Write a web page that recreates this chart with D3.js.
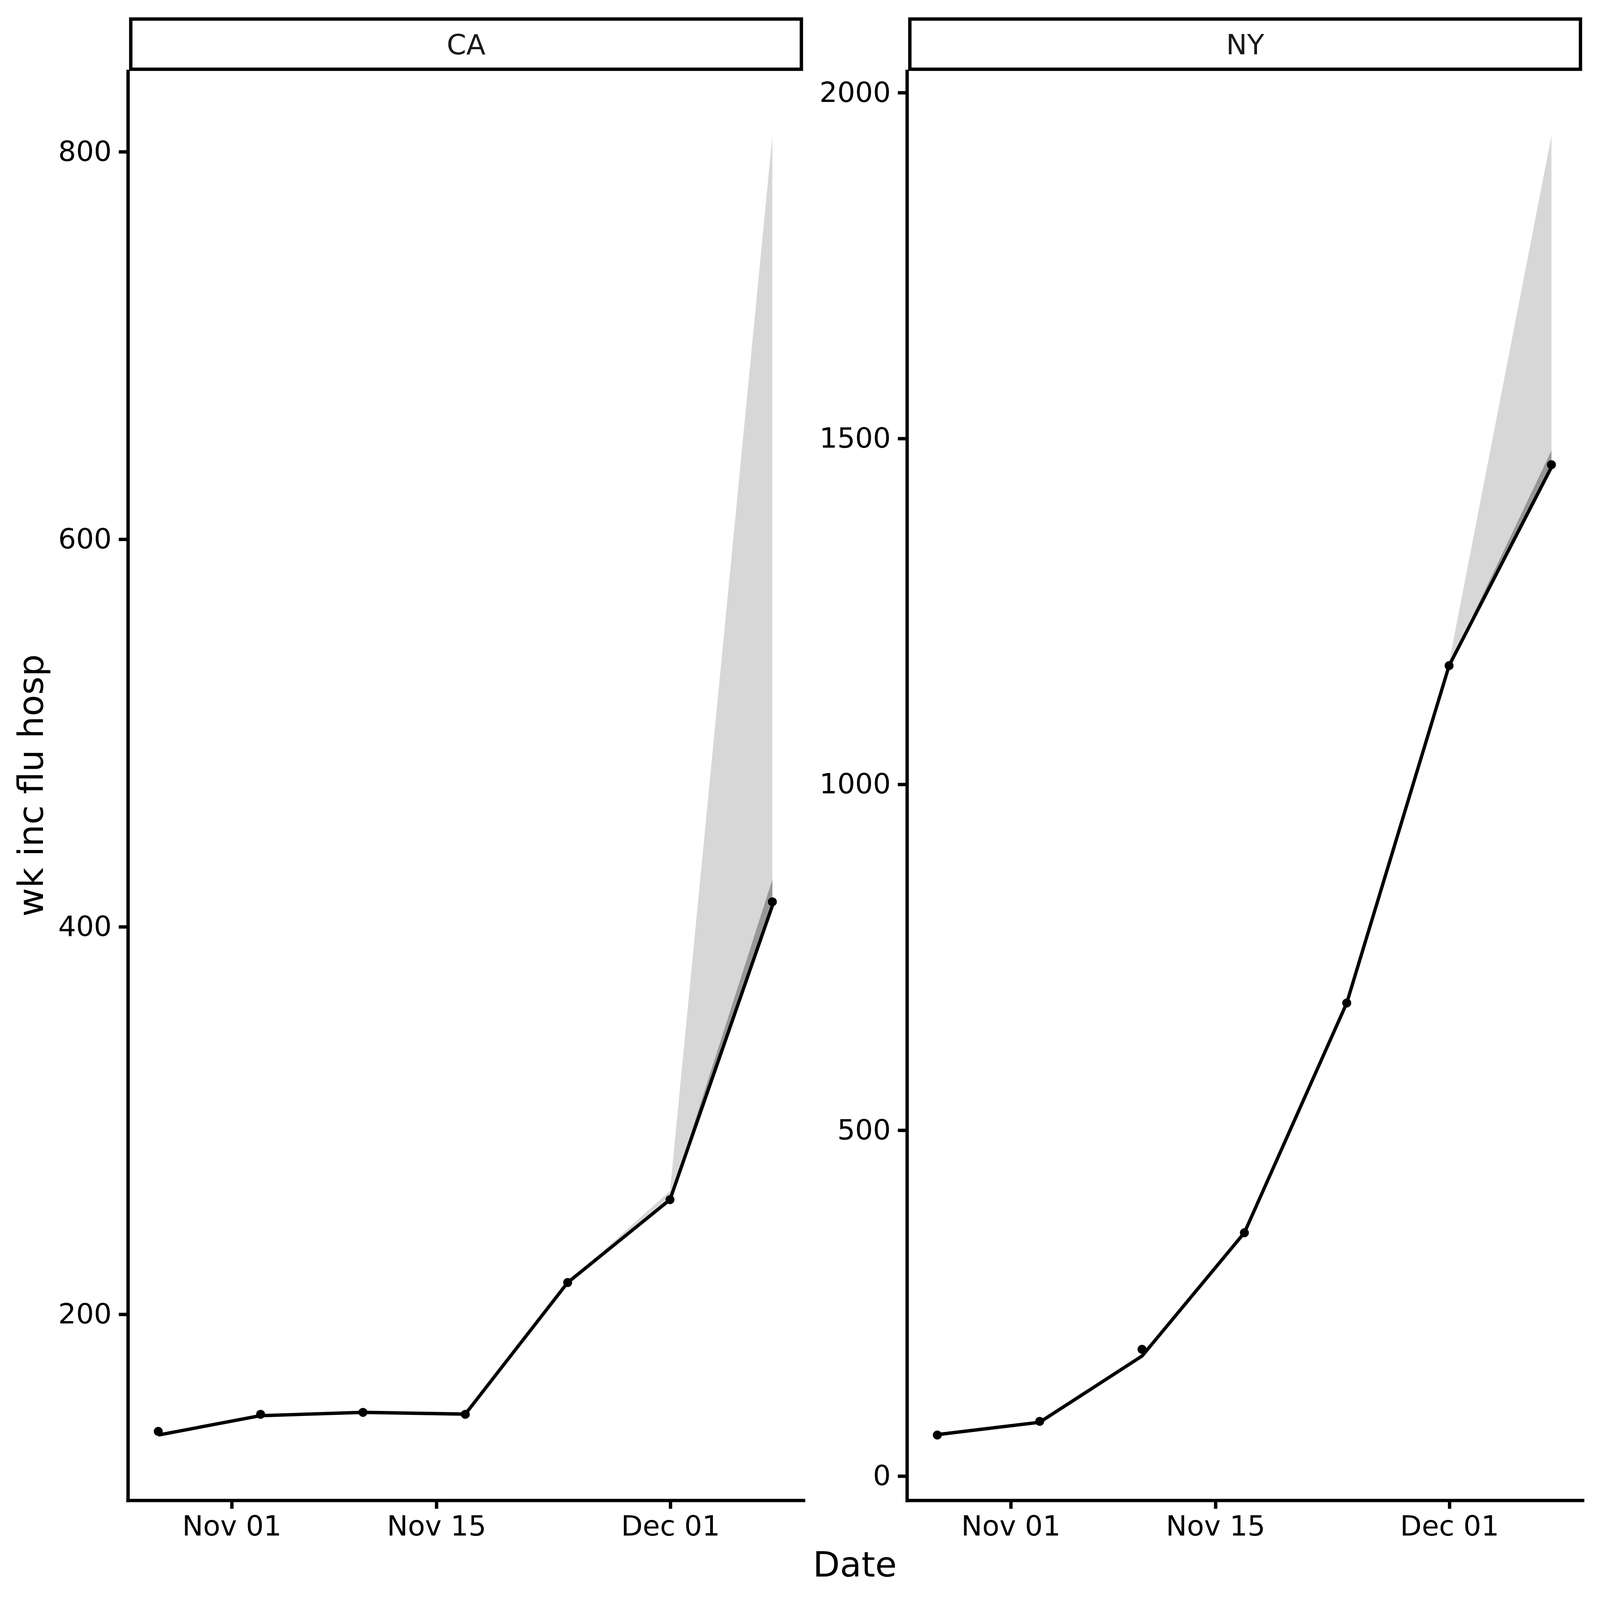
<!DOCTYPE html>
<html>
<head>
<meta charset="utf-8">
<script src="https://cdn.jsdelivr.net/npm/d3@7/dist/d3.min.js"></script>
<style>
  html, body { margin: 0; padding: 0; background: #ffffff; overflow: hidden; }
  #wrapper svg { display: block; width: 100vw; height: 100vh; }
  text { font-family: "DejaVu Sans", sans-serif; }
</style>
</head>
<body>
<div id="wrapper"></div>
<script>
/*global d3*/

// weekly dates
const dates = ["2024-10-27", "2024-11-03", "2024-11-10", "2024-11-17",
               "2024-11-24", "2024-12-01", "2024-12-08"]
const states = ["CA", "NY"]

// observed points
const caPoints = [139.4, 148.2, 149.2, 148.2, 216.2, 259.0, 412.7]
const nyPoints = [58.8, 78.6, 182.7, 351.3, 683.4, 1171.1, 1461.6]

// line
const caLine = [137.5, 147.5, 149.2, 148.3, 216.2, 259.0, 410.7]
const nyLine = [59.4, 77.3, 173.0, 351.3, 683.4, 1171.1, 1458.0]

// outer (light) interval
const caOuterDates = ["2024-11-24", "2024-12-01", "2024-12-08"]
const caOuterLower = [216.2, 258.5, 410.0]
const caOuterUpper = [216.2, 263.5, 808.0]
const nyOuterDates = ["2024-12-01", "2024-12-08"]
const nyOuterLower = [1170.0, 1457.0]
const nyOuterUpper = [1176.0, 1937.0]

// inner (dark) interval
const caInnerDates = ["2024-12-01", "2024-12-08"]
const caInnerLower = [259.0, 410.5]
const caInnerUpper = [259.5, 424.2]
const nyInnerDates = ["2024-12-01", "2024-12-08"]
const nyInnerLower = [1171.0, 1457.0]
const nyInnerUpper = [1171.5, 1482.0]

const xTicks = ["2024-11-01", "2024-11-15", "2024-12-01"]
const caYTicks = [200, 400, 600, 800]
const nyYTicks = [0, 500, 1000, 1500, 2000]

function drawFacets() {

    const parse = d3.utcParse("%Y-%m-%d")

    const facets = [
        {
            key: states[0], points: caPoints, line: caLine, yTicks: caYTicks,
            outer: { dates: caOuterDates, lo: caOuterLower, hi: caOuterUpper },
            inner: { dates: caInnerDates, lo: caInnerLower, hi: caInnerUpper },
        },
        {
            key: states[1], points: nyPoints, line: nyLine, yTicks: nyYTicks,
            outer: { dates: nyOuterDates, lo: nyOuterLower, hi: nyOuterUpper },
            inner: { dates: nyInnerDates, lo: nyInnerLower, hi: nyInnerUpper },
        },
    ]

    // chart dims (drawn in a 1568 box, scaled to the window)
    const dims = {
        width: 1568,
        height: 1568,
        stripTop: 17,
        panelTop: 69.5,
        panelBottom: 1470,
        panelLeft: { CA: 125, NY: 888.5 },
        panelWidth: 662,
    }
    const lw = 3.3
    const tickFont = 27.5
    const titleFont = 34.4

    const wrapper = d3.select("#wrapper")
        .append("svg")
        .attr("viewBox", `0 0 ${dims.width} ${dims.height}`)
        .attr("preserveAspectRatio", "none")

    wrapper.append("rect")
        .attr("width", dims.width)
        .attr("height", dims.height)
        .attr("fill", "white")

    const panelHeight = dims.panelBottom - dims.panelTop

    const xDates = dates.map(parse)
    const xExtent = d3.extent(xDates)
    const xPad = (xExtent[1] - xExtent[0]) * 0.05

    facets.forEach(f => {
        const x0 = dims.panelLeft[f.key]

        const bounds = wrapper.append("g")
            .attr("transform", `translate(${x0}, ${dims.panelTop})`)

        // scales
        const xScale = d3.scaleUtc()
            .domain([new Date(+xExtent[0] - xPad), new Date(+xExtent[1] + xPad)])
            .range([0, dims.panelWidth])

        const allY = [].concat(f.points, f.line, f.outer.lo, f.outer.hi, f.inner.lo, f.inner.hi)
        const yExt = d3.extent(allY)
        const yPad = (yExt[1] - yExt[0]) * 0.05
        const yScale = d3.scaleLinear()
            .domain([yExt[0] - yPad, yExt[1] + yPad])
            .range([panelHeight, 0])

        // ribbons
        const area = d3.area()
            .x(d => xScale(d.date))
            .y0(d => yScale(d.lo))
            .y1(d => yScale(d.hi))

        const toRows = r => r.dates.map((d, i) => ({ date: parse(d), lo: r.lo[i], hi: r.hi[i] }))

        bounds.append("path")
            .datum(toRows(f.outer))
            .attr("d", area)
            .attr("fill", "#d7d7d7")

        bounds.append("path")
            .datum(toRows(f.inner))
            .attr("d", area)
            .attr("fill", "#979797")

        // line
        const lineGen = d3.line()
            .x((d, i) => xScale(xDates[i]))
            .y(d => yScale(d))

        bounds.append("path")
            .datum(f.line)
            .attr("d", lineGen)
            .attr("fill", "none")
            .attr("stroke", "black")
            .attr("stroke-width", lw)
            .attr("stroke-linejoin", "round")

        // points
        bounds.selectAll("circle")
            .data(f.points)
            .join("circle")
            .attr("cx", (d, i) => xScale(xDates[i]))
            .attr("cy", d => yScale(d))
            .attr("r", 4.4)
            .attr("fill", "black")

        // axes
        const xAxisGenerator = d3.axisBottom(xScale)
            .tickValues(xTicks.map(parse))
            .tickFormat(d3.utcFormat("%b %d"))
            .tickSize(8.6)
            .tickSizeOuter(0)
            .tickPadding(6.9)

        const xAxis = bounds.append("g")
            .attr("transform", `translate(0, ${panelHeight})`)
            .call(xAxisGenerator)

        const yAxisGenerator = d3.axisLeft(yScale)
            .tickValues(f.yTicks)
            .tickFormat(d3.format("d"))
            .tickSize(8.6)
            .tickSizeOuter(0)
            .tickPadding(6.9)

        const yAxis = bounds.append("g")
            .call(yAxisGenerator)

        ;[xAxis, yAxis].forEach(ax => {
            ax.select(".domain")
                .attr("stroke", "black")
                .attr("stroke-width", lw)
                .attr("stroke-linecap", "square")
            ax.selectAll(".tick line")
                .attr("stroke", "black")
                .attr("stroke-width", lw)
            ax.selectAll(".tick text")
                .attr("fill", "black")
                .style("font-size", `${tickFont}px`)
                .style("font-family", "DejaVu Sans")
        })

        // strip
        const stripH = dims.panelTop - dims.stripTop
        const strip = wrapper.append("g")
            .attr("transform", `translate(${x0 + 1.5}, ${dims.stripTop})`)

        strip.append("rect")
            .attr("x", lw / 2)
            .attr("y", lw / 2)
            .attr("width", dims.panelWidth - 1.5 - lw)
            .attr("height", stripH - lw)
            .attr("fill", "white")
            .attr("stroke", "black")
            .attr("stroke-width", lw)

        strip.append("text")
            .attr("x", (dims.panelWidth - 1.5) / 2)
            .attr("y", stripH / 2 + 10)
            .attr("text-anchor", "middle")
            .attr("fill", "#1a1a1a")
            .style("font-size", `${tickFont}px`)
            .text(f.key)
    })

    // axis titles
    wrapper.append("text")
        .attr("x", (dims.panelLeft.CA + dims.panelLeft.NY + dims.panelWidth) / 2)
        .attr("y", 1545)
        .attr("text-anchor", "middle")
        .attr("fill", "black")
        .style("font-size", `${titleFont}px`)
        .text("Date")

    wrapper.append("text")
        .attr("transform", `translate(42, ${(dims.panelTop + dims.panelBottom) / 2}) rotate(-90)`)
        .attr("text-anchor", "middle")
        .attr("fill", "black")
        .style("font-size", `${titleFont}px`)
        .text("wk inc flu hosp")
}

drawFacets()
</script>
</body>
</html>
